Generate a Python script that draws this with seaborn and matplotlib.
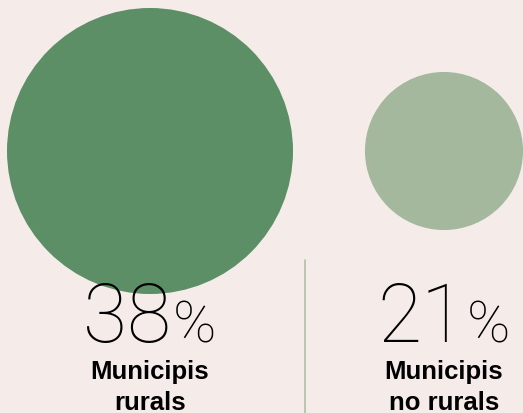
import matplotlib
matplotlib.use('Agg')
import matplotlib.pyplot as plt
from matplotlib.offsetbox import TextArea, HPacker, AnnotationBbox
import pandas as pd
import seaborn as sns

# data
categories = ['Municipis\nrurals', 'Municipis\nno rurals']
values = [38, 21]

colors = ['#5c8f66', '#a4b89e']
bg = '#f5ece9'

W, H, DPI = 523, 414, 100
cx = [150, 444]
cy = 152
px_per_unit = 143 / 38  # circle radius in px per percentage point

sns.set_theme(style='white')
fig = plt.figure(figsize=(W / DPI, H / DPI), dpi=DPI, facecolor=bg)
ax = fig.add_axes([0, 0, 1, 1])
ax.set_facecolor(bg)

df = pd.DataFrame({'cat': categories, 'value': values, 'x': cx, 'y': [cy] * len(values)})
sizes = {v: (2 * v * px_per_unit * 72 / DPI) ** 2 for v in values}
sns.scatterplot(data=df, x='x', y='y', hue='cat', palette=colors, size='value', sizes=sizes,
                linewidth=0, legend=False, ax=ax, zorder=1)

ax.set_xlim(0, W)
ax.set_ylim(H, 0)
ax.axis('off')

# divider
ax.plot([305, 305], [261, H], color='#a9bca3', lw=1.1, zorder=2)

for x, v, lab in zip(cx, values, categories):
    num = TextArea(str(v), textprops=dict(fontsize=58, family='Roboto', weight=250, color='black'))
    pct = TextArea('%', textprops=dict(fontsize=42, family='Roboto', weight=250, color='black'))
    box = HPacker(children=[num, pct], align='baseline', pad=0, sep=1)
    ab = AnnotationBbox(box, (x, 342), xycoords='data', box_alignment=(0.5, 0.22),
                        frameon=False, pad=0, zorder=3)
    ax.add_artist(ab)
    ax.text(x, 360, lab, ha='center', va='top', fontsize=18.5, family='Liberation Sans',
            weight='bold', color='black', linespacing=1.35, zorder=3)

fig.savefig('out.png', dpi=DPI, facecolor=bg)
